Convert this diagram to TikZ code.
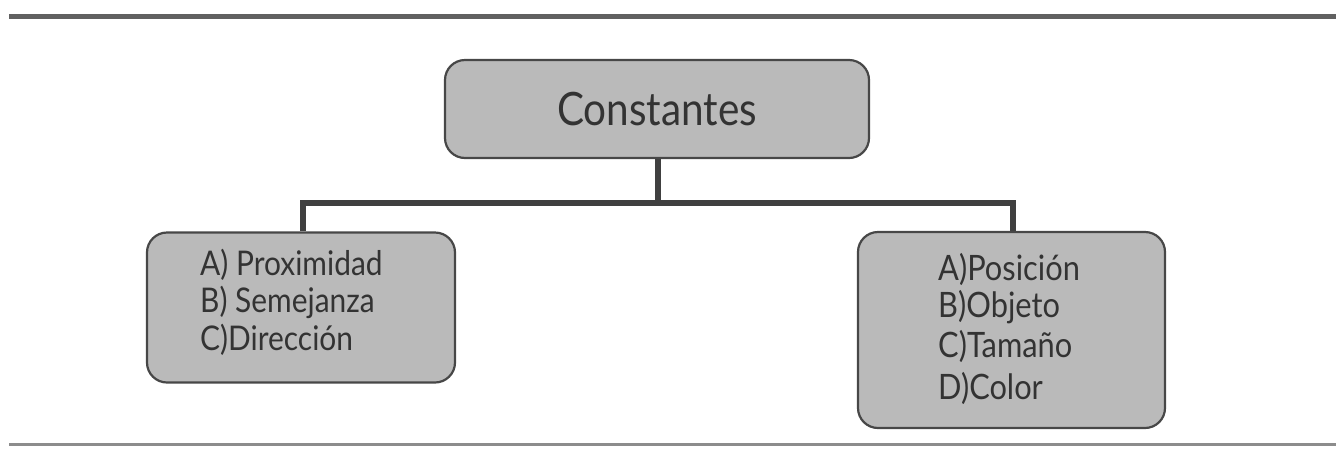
\documentclass[tikz,border=0pt]{standalone}
\usepackage{fontspec}
\setmainfont[FakeStretch=0.88]{Lato}
\begin{document}
\begin{tikzpicture}[x=1pt,y=-1pt,
  box/.style={draw=black!72, line width=2.2pt, fill=black!27, rounded corners=20pt, inner sep=0pt, text=black!80},
  ltxt/.style={anchor=base west, inner sep=0pt, text=black!80, font=\fontsize{34}{38}\selectfont},
  rtxt/.style={anchor=base west, inner sep=0pt, text=black!80, font=\fontsize{35}{40}\selectfont},
  conn/.style={draw=black!75, line width=5.5pt},
  rule/.style={draw=black!62}]
\useasboundingbox (0,0) rectangle (1336,448);
\draw[rule, line width=5pt] (9,16) -- (1336,16);
\draw[rule, line width=3pt, draw=black!45] (9,444) -- (1336,444);
\node[box, minimum width=424pt, minimum height=98pt, font=\fontsize{46}{50}\selectfont] (top) at (657,109) {Constantes};
\node[box, minimum width=308pt, minimum height=150pt] (left) at (301,307.5) {};
\node[ltxt] (l1) at (200,275) {A) Proximidad};
\node[ltxt] (l2) at (200,312) {B) Semejanza};
\node[ltxt] (l3) at (200,350) {C)Dirección};
\node[box, minimum width=307pt, minimum height=196pt] (right) at (1011.5,330) {};
\node[rtxt] (r1) at (938,280) {A)Posición};
\node[rtxt] (r2) at (938,317) {B)Objeto};
\node[rtxt] (r3) at (938,357) {C)Tamaño};
\node[rtxt] (r4) at (938,399) {D)Color};
\coordinate (j) at (658,203);
\draw[conn] (top.south -| j) -- (j);
\draw[conn, line join=miter] (left.north -| 303,0) |- (j) -| (right.north -| 1013,0);
\end{tikzpicture}
\end{document}
